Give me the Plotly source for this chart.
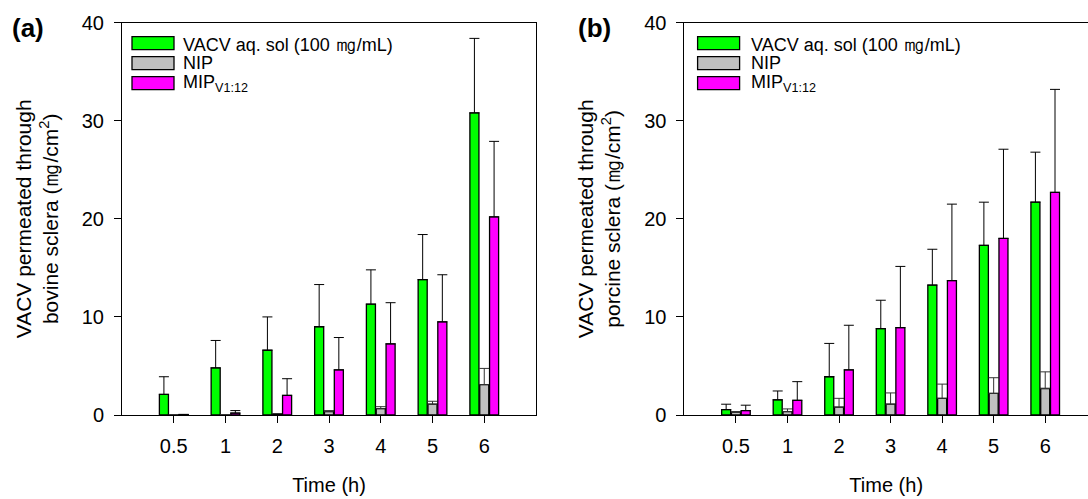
import plotly.graph_objects as go

# ---------------- data ----------------
time_labels = ["0.5", "1", "2", "3", "4", "5", "6"]

# (a) bovine sclera
bov_vacv = [2.1, 4.8, 6.6, 9.0, 11.3, 13.8, 30.8]
bov_vacv_sd = [1.8, 2.8, 3.4, 4.3, 3.5, 4.6, 7.6]
bov_nip = [0.0, 0.0, 0.15, 0.35, 0.65, 1.1, 3.1]
bov_nip_sd = [0.0, 0.0, 0.0, 0.1, 0.2, 0.3, 1.65]
bov_mip = [0.05, 0.2, 2.0, 4.6, 7.25, 9.5, 20.2]
bov_mip_sd = [0.0, 0.25, 1.7, 3.3, 4.2, 4.8, 7.7]

# (b) porcine sclera
por_vacv = [0.55, 1.55, 3.9, 8.8, 13.25, 17.3, 21.7]
por_vacv_sd = [0.55, 0.9, 3.4, 2.9, 3.65, 4.4, 5.1]
por_nip = [0.3, 0.35, 0.8, 1.1, 1.7, 2.2, 2.7]
por_nip_sd = [0.05, 0.27, 0.9, 1.15, 1.45, 1.6, 1.7]
por_mip = [0.45, 1.5, 4.6, 8.9, 13.7, 18.0, 22.7]
por_mip_sd = [0.55, 1.9, 4.55, 6.25, 7.8, 9.1, 10.5]

MG = "<span style=\"font-size:22px\">\u338e</span>"
series_names = ["VACV aq. sol (100 " + MG + "/mL)", "NIP", "MIP<sub>V1:12</sub>"]
series_colors = ["#00FF00", "#C0C0C0", "#FF00FF"]
err_colors = ["#000000", "#333333", "#000000"]

y_ticks = [0, 10, 20, 30, 40]
panel_labels = ["(a)", "(b)"]
MG_T = "<span style=\"font-size:25px\">\u338e</span>"
y_titles = ["VACV permeated through<br>bovine sclera (" + MG_T + "/cm<sup>2</sup>)",
            "VACV permeated through<br>porcine sclera (" + MG_T + "/cm<sup>2</sup>)"]
x_title = "Time (h)"

FONT = "Liberation Sans, Arial, Helvetica, sans-serif"
W, H = 1088, 499

fig = go.Figure()

panels = [
    ([bov_vacv, bov_nip, bov_mip], [bov_vacv_sd, bov_nip_sd, bov_mip_sd], "x", "y"),
    ([por_vacv, por_nip, por_mip], [por_vacv_sd, por_nip_sd, por_mip_sd], "x2", "y2"),
]
for means, sds, xa, ya in panels:
    for i in range(3):
        fig.add_trace(go.Bar(
            x=time_labels, y=means[i], xaxis=xa, yaxis=ya,
            name=series_names[i], showlegend=False,
            marker=dict(color=series_colors[i], line=dict(color="#000000", width=1.3)),
            error_y=dict(type="data", symmetric=False, array=sds[i],
                         arrayminus=[0] * len(sds[i]),
                         color=err_colors[i], thickness=1, width=5),
        ))

# pixel geometry
ya_top, ya_bot = 22.7, 415.0
xa_dom = (122 / W, 536 / W)
xb_dom = (684.4 / W, 1.0)
y_dom = ((H - ya_bot) / H, (H - ya_top) / H)

tickfont = dict(family=FONT, size=20, color="#000000")
axis_common = dict(showline=True, linecolor="#000000", linewidth=1,
                   ticks="outside", ticklen=7, tickcolor="#000000",
                   tickfont=tickfont, showgrid=False, zeroline=False,
                   automargin=False)

fig.update_layout(
    template="none",
    width=W, height=H,
    margin=dict(l=0, r=0, t=0, b=0, pad=0),
    paper_bgcolor="white", plot_bgcolor="white",
    barmode="group", bargap=0.43, bargroupgap=0.08,
    showlegend=False,
    font=dict(family=FONT, size=20, color="#000000"),
    xaxis=dict(domain=list(xa_dom), type="category", range=[-1, 7], mirror=True,
               title=dict(text=x_title, font=dict(family=FONT, size=20), standoff=21),
               ticklabelstandoff=6, **axis_common),
    yaxis=dict(domain=list(y_dom), range=[0, 40], tickvals=y_ticks, mirror=True,
               title=dict(text=y_titles[0], font=dict(family=FONT, size=21), standoff=17),
               ticklabelstandoff=6, anchor="x", **axis_common),
    xaxis2=dict(domain=list(xb_dom), type="category", range=[-1, 6.83], mirror=True,
                anchor="y2",
                title=dict(text=x_title, font=dict(family=FONT, size=20), standoff=21),
                ticklabelstandoff=6, **axis_common),
    yaxis2=dict(domain=list(y_dom), range=[0, 40], tickvals=y_ticks, mirror=False,
                anchor="x2",
                title=dict(text=y_titles[1], font=dict(family=FONT, size=21), standoff=17),
                ticklabelstandoff=6, **axis_common),
)

# custom legends (in axis-domain coordinates)
def add_legend(xref, yref, dom_w_px, x0_px, x_text_px):
    row_top = [36.7, 56.7, 76.7]
    box_h = 13.0
    box_w = 42.0
    for i in range(3):
        y0 = (ya_bot - (row_top[i] + box_h)) / (ya_bot - ya_top)
        y1 = (ya_bot - row_top[i]) / (ya_bot - ya_top)
        fig.add_shape(type="rect", xref=xref, yref=yref,
                      x0=x0_px / dom_w_px, x1=(x0_px + box_w) / dom_w_px,
                      y0=y0, y1=y1,
                      fillcolor=series_colors[i],
                      line=dict(color="#000000", width=1.3))
        fig.add_annotation(xref=xref, yref=yref,
                           x=x_text_px / dom_w_px, y=(y0 + y1) / 2,
                           text=series_names[i], showarrow=False,
                           xanchor="left", yanchor="middle",
                           font=dict(family=FONT, size=18, color="#000000"))

add_legend("x domain", "y domain", 536 - 122, 132 - 122, 181 - 122)
add_legend("x2 domain", "y2 domain", W - 684.4, 697.6 - 684.4, 749 - 684.4)

for lbl, xc in zip(panel_labels, [28, 594]):
    fig.add_annotation(xref="paper", yref="paper", x=xc / W, y=1 - 28 / H,
                       text="<b>" + lbl + "</b>", showarrow=False,
                       xanchor="center", yanchor="middle",
                       font=dict(family=FONT, size=26, color="#000000"))

fig.write_html("out.html",
               config={"displayModeBar": False},
               post_script="document.body.style.margin='0';document.body.style.overflow='hidden';")
